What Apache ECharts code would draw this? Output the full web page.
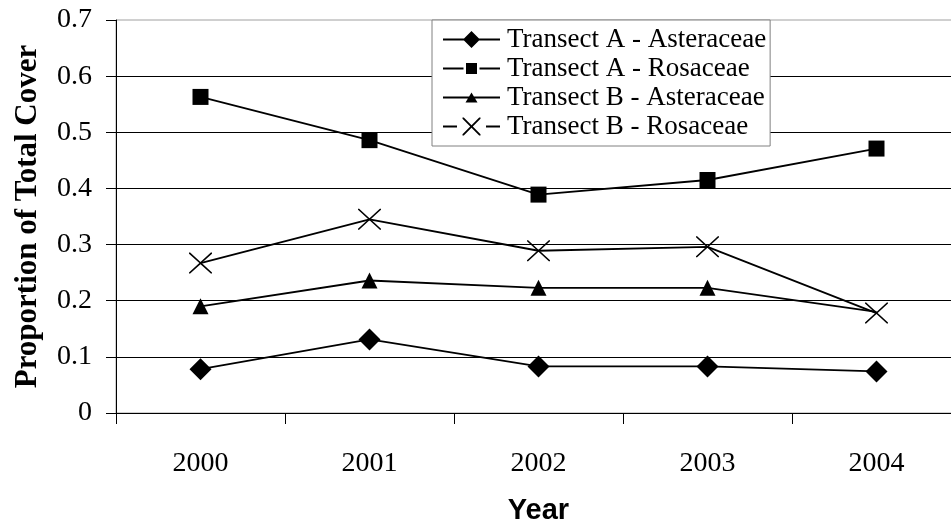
<!DOCTYPE html>
<html>
<head>
<meta charset="utf-8">
<script src="https://cdn.jsdelivr.net/npm/echarts@6/dist/echarts.min.js"></script>
<style>
  html, body { margin: 0; padding: 0; background: #fff; }
  #chart { width: 951px; height: 521px; }
</style>
</head>
<body>
<div id="chart"></div>
<script>
// Survey years and proportion of total cover per transect / family
const years = ['2000', '2001', '2002', '2003', '2004'];
const aAsteraceae = [0.078, 0.131, 0.083, 0.083, 0.074];
const aRosaceae = [0.563, 0.486, 0.389, 0.415, 0.471];
const bAsteraceae = [0.190, 0.236, 0.223, 0.223, 0.180];
const bRosaceae = [0.267, 0.345, 0.289, 0.296, 0.178];
const yTickLabels = ['0', '0.1', '0.2', '0.3', '0.4', '0.5', '0.6', '0.7'];

const seriesNames = [
  'Transect A - Asteraceae',
  'Transect A - Rosaceae',
  'Transect B - Asteraceae',
  'Transect B - Rosaceae'
];

// Cross marker as a filled outline (unit box 0..100)
const crossSymbol = 'path://M0 0 L5 0 L50 45 L95 0 L100 0 L100 5 L55 50 L100 95 L100 100 L95 100 L50 55 L5 100 L0 100 L0 95 L45 50 L0 5 Z';

// Legend keys: line segment plus marker, drawn at 10 units per pixel (57 x 18 px box)
const legendIcons = [
  'path://M0 80 L570 80 L570 100 L0 100 Z M285 5 L370 90 L285 175 L200 90 Z',
  'path://M0 80 L205 80 L205 100 L0 100 Z M230 35 L340 35 L340 145 L230 145 Z M365 80 L570 80 L570 100 L365 100 Z',
  'path://M0 80 L570 80 L570 100 L0 100 Z M285 40 L345 140 L225 140 Z',
  'path://M0 80 L140 80 L140 100 L0 100 Z M195 0 L208 0 L285 77 L362 0 L375 0 L375 13 L298 90 L375 167 L375 180 L362 180 L285 103 L208 180 L195 180 L195 167 L272 90 L195 13 Z M430 80 L570 80 L570 100 L430 100 Z'
];

const serif = 'Liberation Serif';
const sans = 'Liberation Sans';

function lineSeries(name, data, symbol, size) {
  return {
    name: name,
    type: 'line',
    data: data,
    symbol: symbol,
    symbolSize: size,
    showAllSymbol: true,
    lineStyle: { color: '#000', width: 1.8 },
    itemStyle: { color: '#000', borderWidth: 0 },
    emphasis: { disabled: true },
    animation: false
  };
}

const chart = echarts.init(document.getElementById('chart'), null, { renderer: 'canvas' });

chart.setOption({
  backgroundColor: '#fff',
  animation: false,
  grid: {
    left: 116, top: 20, width: 845, height: 393,
    outerBoundsMode: 'none',
    containLabel: false,
    show: true, borderColor: '#a0a0a0', borderWidth: 1, backgroundColor: 'transparent'
  },
  legend: {
    orient: 'vertical',
    left: 432, top: 20,
    padding: [5, 4, 5, 11],
    itemGap: 0,
    itemWidth: 57,
    itemHeight: 18,
    backgroundColor: '#fff',
    borderColor: '#808080',
    borderWidth: 1,
    borderRadius: 0,
    selectedMode: false,
    itemStyle: { borderWidth: 0 },
    textStyle: { fontFamily: serif, fontSize: 27, lineHeight: 29, color: '#000', padding: [0, 0, 0, 2] },
    data: seriesNames.map((n, i) => ({ name: n, icon: legendIcons[i] }))
  },
  xAxis: {
    type: 'category',
    data: years,
    boundaryGap: true,
    axisLine: { lineStyle: { color: '#000', width: 1 } },
    axisTick: { show: true, length: 11, lineStyle: { color: '#000' } },
    axisLabel: { fontFamily: serif, fontSize: 28, lineHeight: 28, color: '#000', margin: 37 },
    name: 'Year',
    nameLocation: 'middle',
    nameGap: 83,
    nameTextStyle: { fontFamily: sans, fontWeight: 'bold', fontSize: 29, color: '#000' }
  },
  yAxis: {
    type: 'value',
    min: 0, max: 0.7, interval: 0.1,
    axisLine: { show: true, lineStyle: { color: '#000', width: 1 } },
    axisTick: { show: true, length: 10, lineStyle: { color: '#000' } },
    axisLabel: {
      fontFamily: serif, fontSize: 28, color: '#000', margin: 24,
      formatter: v => yTickLabels[Math.round(v * 10)]
    },
    splitLine: { show: true, showMaxLine: false, lineStyle: { color: '#000', width: 1 } },
    name: 'Proportion of Total Cover',
    nameLocation: 'middle',
    nameGap: 73,
    nameTextStyle: { fontFamily: serif, fontWeight: 'bold', fontSize: 31, color: '#000' }
  },
  series: [
    lineSeries(seriesNames[0], aAsteraceae, 'diamond', [22, 22]),
    lineSeries(seriesNames[1], aRosaceae, 'rect', [16, 16]),
    lineSeries(seriesNames[2], bAsteraceae.map((v, i) => i === 4 ? { value: v, symbol: 'none' } : v), 'triangle', [16, 16]),
    lineSeries(seriesNames[3], bRosaceae, crossSymbol, [23, 21])
  ]
});
</script>
</body>
</html>
